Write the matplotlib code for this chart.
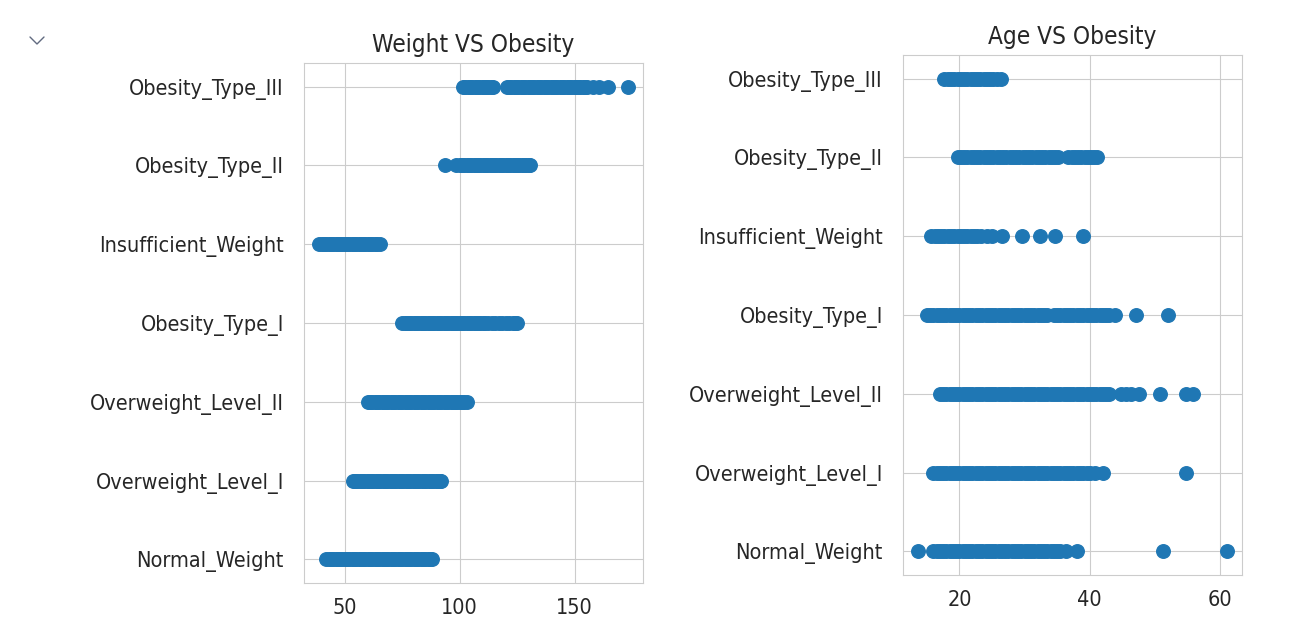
import matplotlib
matplotlib.use("Agg")
import matplotlib.pyplot as plt
import seaborn as sns
from matplotlib.lines import Line2D

sns.set_style("whitegrid")
plt.rcParams['font.family'] = ['DejaVu Sans']
plt.rcParams['font.stretch'] = 'condensed'

# category order as it shows up on the y axis, bottom to top
categories = ['Normal_Weight', 'Overweight_Level_I', 'Overweight_Level_II',
              'Obesity_Type_I', 'Insufficient_Weight', 'Obesity_Type_II',
              'Obesity_Type_III']

# Weight (kg) per class
weight_normal = [42, 43, 44, 45, 46, 47, 48, 49, 50, 51, 52, 53, 54, 55, 56,
                 57, 58, 59, 60, 61, 62, 63, 64, 65, 66, 67, 68, 69, 70, 71,
                 72, 73, 74, 75, 76, 77, 78, 79, 80, 81, 82, 83, 84, 85, 86,
                 87, 88]
weight_over1 = [53.5, 54.5, 55.5, 56.5, 57.5, 58.5, 59.5, 60.5, 61.5, 62.5,
                63.5, 64.5, 65.5, 66.5, 67.5, 68.5, 69.5, 70.5, 71.5, 72.5,
                73.5, 74.5, 75.5, 76.5, 77.5, 78.5, 79.5, 80.5, 81.5, 82.5,
                83.5, 84.5, 85.5, 86.5, 87.5, 88.5, 89.5, 90.5, 91.5, 92]
weight_over2 = [60, 61, 62, 63, 64, 65, 66, 67, 68, 69, 70, 71, 72, 73, 74,
                75, 76, 77, 78, 79, 80, 81, 82, 83, 84, 85, 86, 87, 88, 89,
                90, 91, 92, 93, 94, 95, 96, 97, 98, 99, 100, 101, 102, 103]
weight_ob1 = [75, 76, 77, 78, 79, 80, 81, 82, 83, 84, 85, 86, 87, 88, 89, 90,
              91, 92, 93, 94, 95, 96, 97, 98, 99, 100, 101, 102, 103, 104,
              105, 106, 107, 108, 109, 110, 111, 112.5, 114, 115.5, 117,
              118.5, 120, 121.5, 123, 124, 125]
weight_insuff = [39, 40, 41, 42, 43, 44, 45, 46, 47, 48, 49, 50, 51, 52, 53,
                 54, 55, 56, 57, 58, 59, 60, 61, 62, 63, 64, 65.5]
weight_ob2 = [93.5, 98.5, 100, 101, 102, 103, 104, 105, 106, 107, 108, 109,
              110, 111, 112, 113, 114, 115, 116, 117, 118, 119, 120, 121, 122,
              123, 124, 125, 126, 127, 128, 129, 130, 130.5]
weight_ob3 = [101.5, 102.5, 103.5, 104.5, 105.5, 106.5, 107.5, 108.5, 109.5,
              110.5, 111.5, 112.5, 113.5, 114.5, 120.5, 121.5, 122.5, 123.5,
              124.5, 125.5, 126.5, 127.5, 128.5, 129.5, 130.5, 131.5, 132.5,
              133.5, 134.5, 135.5, 136.5, 137.5, 138.5, 139.5, 140.5, 141.5,
              142.5, 143.5, 144.5, 145.5, 146.5, 147.5, 148.5, 149.5, 150.5,
              151.5, 152.5, 153.5, 154.5, 155.5, 158, 160.5, 164.5, 173]

# Age (years) per class
age_normal = [13.7, 16, 16.5, 17, 17.5, 18, 18.5, 19, 19.5, 20, 20.5, 21,
              21.5, 22, 22.5, 23, 23.5, 24, 24.5, 25, 25.5, 26, 26.5, 27,
              27.5, 28, 28.5, 29, 29.5, 30, 30.5, 31, 31.5, 32, 32.5, 33,
              33.5, 34, 34.5, 35, 35.5, 36.3, 38, 51.3, 61]
age_over1 = [16, 16.5, 17, 17.5, 18, 18.5, 19, 19.5, 20, 20.5, 21, 21.5, 22,
             22.5, 23, 23.5, 24, 24.5, 25, 25.5, 26, 26.5, 27, 27.5, 28, 28.5,
             29, 29.5, 30, 30.5, 31, 31.5, 32, 32.5, 33, 33.5, 34, 34.5, 35,
             35.5, 36, 36.5, 37, 37.5, 38, 38.5, 39, 39.5, 40, 40.8, 42, 54.8]
age_over2 = [17, 17.5, 18, 18.5, 19, 19.5, 20, 20.5, 21, 21.5, 22, 22.5, 23,
             23.5, 24, 24.5, 25, 25.5, 26, 26.5, 27, 27.5, 28, 28.5, 29, 29.5,
             30, 30.5, 31, 31.5, 32, 32.5, 33, 33.5, 34, 34.5, 35, 35.5, 36,
             36.5, 37, 37.5, 38, 38.5, 39, 39.5, 40, 40.5, 41, 41.5, 42, 42.5,
             43, 44.8, 45.6, 46.4, 47.5, 50.8, 54.8, 55.9]
age_ob1 = [15, 15.5, 16, 16.5, 17, 17.5, 18, 18.5, 19, 19.5, 20, 20.5, 21,
           21.5, 22, 22.5, 23, 23.5, 24, 24.5, 25, 25.5, 26, 26.5, 27, 27.5,
           28, 28.5, 29, 29.5, 30, 30.5, 31, 31.5, 32, 32.5, 33, 33.5, 34.5,
           35, 35.5, 36, 36.5, 37, 37.5, 38, 38.5, 39, 39.5, 40, 40.5, 41,
           41.5, 42, 42.5, 43, 43.8, 47.1, 52]
age_insuff = [15.7, 16.2, 16.7, 17.2, 17.7, 18.2, 18.7, 19.2, 19.7, 20.2,
              20.7, 21.2, 21.7, 22.2, 22.7, 23.3, 24.2, 25, 26.6, 29.6, 32.4,
              34.6, 38.9]
age_ob2 = [19.7, 20.2, 20.7, 21.2, 21.7, 22.2, 22.7, 23.2, 23.7, 24.2, 24.7,
           25.2, 25.7, 26.2, 26.7, 27.2, 27.7, 28.2, 28.7, 29.2, 29.7, 30.2,
           30.7, 31.2, 31.7, 32.2, 32.7, 33.2, 33.7, 34.2, 34.7, 35.2, 36.7,
           37.2, 37.7, 38.2, 38.7, 39.2, 39.7, 40.2, 40.7, 41.1]
age_ob3 = [17.7, 18.2, 18.7, 19.2, 19.7, 20.2, 20.7, 21.2, 21.7, 22.2, 22.7,
           23.2, 23.7, 24.2, 24.7, 25.2, 25.7, 26.3]

weight_by_class = [weight_normal, weight_over1, weight_over2, weight_ob1,
                   weight_insuff, weight_ob2, weight_ob3]
age_by_class = [age_normal, age_over1, age_over2, age_ob1, age_insuff,
                age_ob2, age_ob3]

fig = plt.figure(figsize=(13.08, 6.2), dpi=100)
ax1 = fig.add_axes([304 / 1308, 37 / 620, 339 / 1308, 520 / 620])
ax2 = fig.add_axes([903 / 1308, 45 / 620, 339 / 1308, 520 / 620])

for ax, series, title in [(ax1, weight_by_class, 'Weight VS Obesity'),
                          (ax2, age_by_class, 'Age VS Obesity')]:
    for cat, vals in zip(categories, series):
        ax.scatter(vals, [cat] * len(vals), s=95, color='#1f77b4')
    ax.set_title(title, fontsize=17.5, color='.15', pad=8)
    ax.tick_params(axis='y', labelsize=15.5, pad=11, colors='.15')
    ax.tick_params(axis='x', labelsize=15.5, pad=7, colors='.15')

ax1.set_xticks([50, 100, 150])
ax2.set_xticks([20, 40, 60])

# notebook output collapse chevron
fig.add_artist(Line2D([30 / 1308, 37 / 1308, 44 / 1308],
                      [1 - 37 / 620, 1 - 44 / 620, 1 - 37 / 620],
                      color='#616a80', lw=1.0))

fig.savefig('out.png', dpi=100)
